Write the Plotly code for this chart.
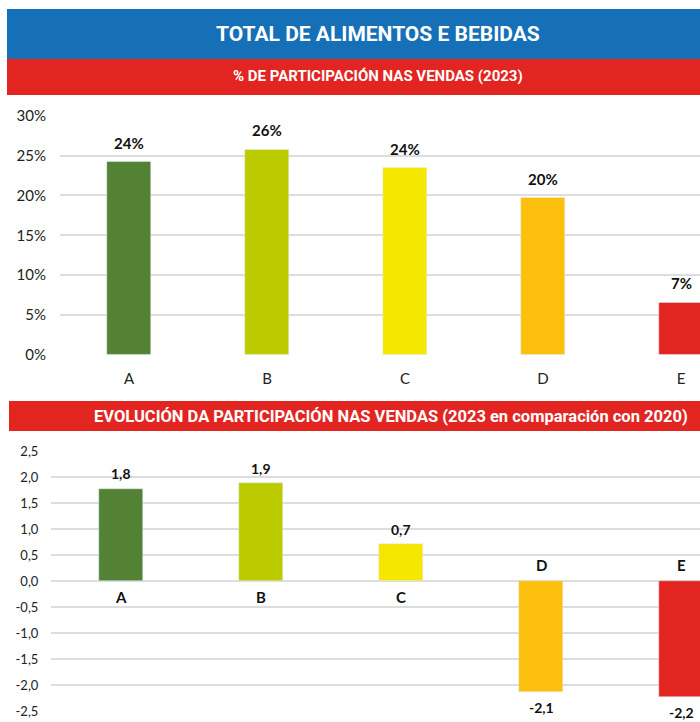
import plotly.graph_objects as go

# Data
categories = ["A", "B", "C", "D", "E"]
share_2023 = [24.2, 25.8, 23.5, 19.7, 6.6]          # % of sales, 2023
change_vs_2020 = [1.77, 1.88, 0.71, -2.14, -2.24]   # percentage-point change 2023 vs 2020
bar_colors = ["#548235", "#BBCB00", "#F5E700", "#FCBF0E", "#E32521"]

top_tickvals = [0, 5, 10, 15, 20, 25, 30]
top_ticktext = ["0%", "5%", "10%", "15%", "20%", "25%", "30%"]
bottom_tickvals = [-2.5, -2.0, -1.5, -1.0, -0.5, 0.0, 0.5, 1.0, 1.5, 2.0, 2.5]
bottom_ticktext = ["-2,5", "-2,0", "-1,5", "-1,0", "-0,5", "0,0", "0,5", "1,0", "1,5", "2,0", "2,5"]

title_text = "TOTAL DE ALIMENTOS E BEBIDAS"
sub_top = "% DE PARTICIPACIÓN NAS VENDAS (2023)"
sub_bottom = "EVOLUCIÓN DA PARTICIPACIÓN NAS VENDAS (2023 en comparación con 2020)"

W, H = 700, 722
FONT = "Lato, 'DejaVu Sans', sans-serif"
HEAD_FONT = "Roboto, sans-serif"
BLUE = "#1570B8"
RED = "#E32521"
GRID = "#DDDDDD"

def px_x(x):
    return x / W

def px_y(y):
    return 1 - y / H

fig = go.Figure()

fig.add_trace(go.Bar(
    x=categories, y=share_2023, marker_color=bar_colors, width=0.32,
    xaxis="x", yaxis="y", showlegend=False, hoverinfo="skip",
))
fig.add_trace(go.Bar(
    x=categories, y=change_vs_2020, marker_color=bar_colors, width=0.32,
    xaxis="x2", yaxis="y2", showlegend=False, hoverinfo="skip",
))

annotations = []
# value labels, upper chart
for c, v in zip(categories, share_2023):
    annotations.append(dict(
        x=c, y=v, xref="x", yref="y", text=f"<b>{v:.0f}%</b>", showarrow=False,
        yshift=19, yanchor="middle", font=dict(family=FONT, size=15, color="#111111"),
    ))
# value and category labels, lower chart
for c, v in zip(categories, change_vs_2020):
    sign = 1 if v >= 0 else -1
    annotations.append(dict(
        x=c, y=v, xref="x2", yref="y2", text="<b>" + f"{v:.1f}".replace(".", ",") + "</b>",
        showarrow=False, yshift=15 * sign, yanchor="middle",
        font=dict(family=FONT, size=14, color="#111111"),
    ))
    annotations.append(dict(
        x=c, y=0, xref="x2", yref="y2", text=f"<b>{c}</b>", showarrow=False,
        yshift=-16 * sign, yanchor="middle", font=dict(family=FONT, size=15, color="#111111"),
    ))

# header texts
annotations += [
    dict(x=px_x(378), y=px_y(34), xref="paper", yref="paper", text=f"<b>{title_text}</b>",
         showarrow=False, xanchor="center", yanchor="middle",
         font=dict(family=HEAD_FONT, size=21, color="white")),
    dict(x=px_x(378), y=px_y(76), xref="paper", yref="paper", text=f"<b>{sub_top}</b>",
         showarrow=False, xanchor="center", yanchor="middle",
         font=dict(family=HEAD_FONT, size=15, color="white")),
    dict(x=px_x(391), y=px_y(416), xref="paper", yref="paper", text=f"<b>{sub_bottom}</b>",
         showarrow=False, xanchor="center", yanchor="middle",
         font=dict(family=HEAD_FONT, size=16.5, color="white")),
]

shapes = [
    dict(type="rect", xref="paper", yref="paper", x0=px_x(7), x1=1.0, y0=px_y(59), y1=px_y(9),
         fillcolor=BLUE, line=dict(width=0), layer="below"),
    dict(type="rect", xref="paper", yref="paper", x0=px_x(7), x1=1.0, y0=px_y(95), y1=px_y(59),
         fillcolor=RED, line=dict(width=0), layer="below"),
    dict(type="rect", xref="paper", yref="paper", x0=px_x(9), x1=1.0, y0=px_y(431), y1=px_y(401),
         fillcolor=RED, line=dict(width=0), layer="below"),
]

fig.update_layout(
    width=W, height=H, margin=dict(l=0, r=0, t=0, b=0, pad=0), autosize=False,
    paper_bgcolor="white", plot_bgcolor="white",
    font=dict(family=FONT, size=14, color="#222222"),
    annotations=annotations, shapes=shapes, bargap=0,
    xaxis=dict(
        domain=[px_x(60), 1.0], range=[-0.5, -0.5 + 640 / 138], automargin=False,
        showgrid=False, zeroline=False, showline=False,
        ticks="outside", ticklen=10, tickcolor="rgba(0,0,0,0)",
        tickfont=dict(family=FONT, size=15, color="#222222"),
    ),
    yaxis=dict(
        domain=[px_y(355), px_y(115.7)], range=[0, 30], automargin=False,
        tickvals=top_tickvals, ticktext=top_ticktext,
        showgrid=True, gridcolor=GRID, gridwidth=1.5, zeroline=False, showline=False,
        ticks="outside", ticklen=10, tickcolor="rgba(0,0,0,0)",
        tickfont=dict(family=FONT, size=15, color="#222222"),
    ),
    xaxis2=dict(
        domain=[px_x(51), 1.0], range=[-0.5, -0.5 + 649 / 140], anchor="y2", automargin=False,
        showgrid=False, zeroline=False, showline=False, showticklabels=False,
    ),
    yaxis2=dict(
        domain=[px_y(711), px_y(451)], range=[-2.5, 2.5], anchor="x2", automargin=False,
        tickvals=bottom_tickvals, ticktext=bottom_ticktext,
        showgrid=True, gridcolor=GRID, gridwidth=1.5, zeroline=False, showline=False,
        ticks="outside", ticklen=9, tickcolor="rgba(0,0,0,0)",
        tickfont=dict(family=FONT, size=13, color="#222222"),
    ),
)

fig.write_html("out.html")
